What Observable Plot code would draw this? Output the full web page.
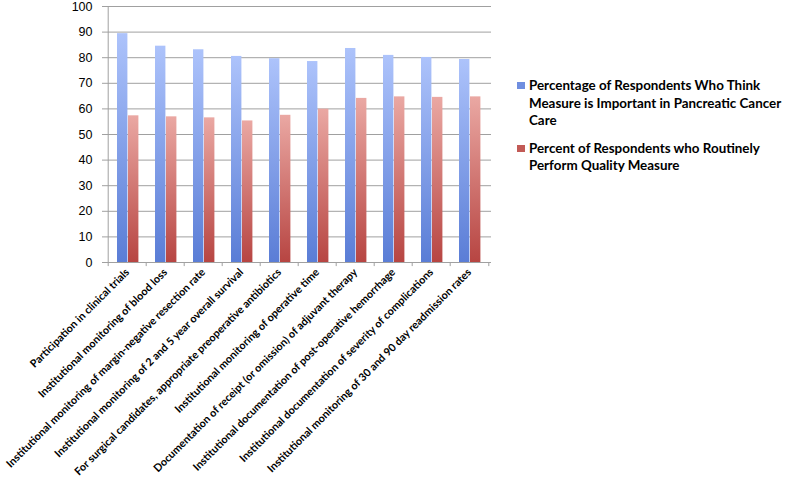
<!DOCTYPE html>
<html>
<head>
<meta charset="utf-8">
<script src="https://cdn.jsdelivr.net/npm/d3@7"></script>
<script src="https://cdn.jsdelivr.net/npm/@observablehq/plot@0.6"></script>
<style>
  body { margin: 0; background: #fff; }
  #wrap { position: relative; width: 789px; height: 487px; }
  #legend { position: absolute; left: 517px; top: 77px; font-family: Lato, "Open Sans", sans-serif; font-weight: bold; font-size: 13.4px; line-height: 17.5px; color: #000; }
  .item { position: relative; padding-left: 12px; width: 265px; }
  .sw { position: absolute; left: 0; top: 5px; width: 8px; height: 7px; }
</style>
</head>
<body>
<div id="wrap"><div id="legend"></div></div>
<script>
const categories = [
  "Participation in clinical trials",
  "Institutional monitoring of blood loss",
  "Institutional monitoring of margin-negative resection rate",
  "Institutional monitoring of 2 and 5 year overall survival",
  "For surgical candidates, appropriate preoperative antibiotics",
  "Institutional monitoring of operative time",
  "Documentation of receipt (or omission) of adjuvant therapy",
  "Institutional documentation of post-operative hemorrhage",
  "Institutional documentation of severity of complications",
  "Institutional monitoring of 30 and 90 day readmission rates"
];
const seriesNames = [
  "Percentage of Respondents Who Think Measure is Important in Pancreatic Cancer Care",
  "Percent of Respondents who Routinely Perform Quality Measure"
];
const important = [89.4, 84.5, 83.1, 80.5, 79.6, 78.5, 83.6, 80.9, 80.1, 79.3];
const perform = [57.3, 56.9, 56.5, 55.3, 57.5, 59.9, 64.1, 64.7, 64.5, 64.7];
const yTicks = [0, 10, 20, 30, 40, 50, 60, 70, 80, 90, 100];

const rowsA = categories.map((c, i) => ({category: c, value: important[i]}));
const rowsB = categories.map((c, i) => ({category: c, value: perform[i]}));

const chart = Plot.plot({
  width: 789,
  height: 487,
  marginLeft: 105,
  marginRight: 298,
  marginTop: 6,
  marginBottom: 225,
  style: {fontFamily: "Lato, sans-serif", background: "#fff", overflow: "visible"},
  x: {domain: categories, padding: 0, label: null},
  y: {domain: [0, 100], label: null},
  marks: [
    Plot.ruleY(yTicks, {stroke: "#a0a0a0", strokeWidth: 1, insetLeft: -3}),
    Plot.barY(rowsA, {x: "category", y: "value", fill: "url(#gBlue)", insetLeft: 9, insetRight: 18.6}),
    Plot.barY(rowsB, {x: "category", y: "value", fill: "url(#gRed)", insetLeft: 20, insetRight: 7.6}),
    Plot.ruleX(categories, {x: d => d, dx: -19.3, y1: 0, y2: -1.6, stroke: "#a0a0a0"}),
    Plot.ruleX([categories[categories.length - 1]], {x: d => d, dx: 19.3, y1: 0, y2: -1.6, stroke: "#a0a0a0"}),
    Plot.ruleX([0], {x: () => categories[0], dx: -19.3, y1: 0, y2: 100, stroke: "#a0a0a0"}),
    Plot.ruleY([0], {stroke: "#a0a0a0"}),
    Plot.axisY({ticks: yTicks, tickSize: 0, tickPadding: 13, fontSize: 12.5, fontFamily: "'Liberation Sans', Arial, sans-serif", label: null, fill: "#000"}),
    Plot.axisX({tickSize: 0, tickRotate: -45, tickPadding: 8, fontSize: 10.8, fontWeight: "bold", label: null, fill: "#000"})
  ]
});

const svg = d3.select(chart);
const defs = svg.insert("defs", ":first-child");
function grad(id, top, bottom) {
  const g = defs.append("linearGradient").attr("id", id).attr("x1", 0).attr("y1", 0).attr("x2", 0).attr("y2", 1);
  g.append("stop").attr("offset", "0%").attr("stop-color", top);
  g.append("stop").attr("offset", "100%").attr("stop-color", bottom);
}
grad("gBlue", "#adc3fb", "#5a7dd6");
grad("gRed", "#eaa8a3", "#b74542");

document.getElementById("wrap").prepend(chart);

const legend = document.getElementById("legend");
const legendColors = ["#6f8ee0", "#c25a56"];
seriesNames.forEach((name, i) => {
  const item = document.createElement("div");
  item.className = "item";
  item.style.marginBottom = i === 0 ? "10px" : "0";
  const sw = document.createElement("span");
  sw.className = "sw";
  sw.style.background = legendColors[i];
  item.appendChild(sw);
  item.appendChild(document.createTextNode(name));
  legend.appendChild(item);
});
</script>
</body>
</html>
